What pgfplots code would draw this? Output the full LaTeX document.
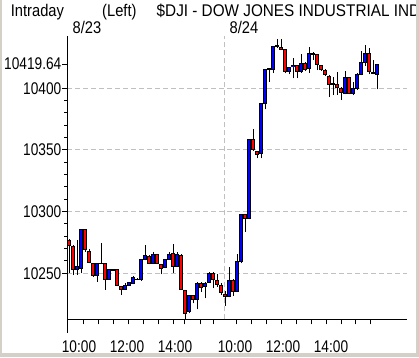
\documentclass[border=0pt]{standalone}
\usepackage{pgfplots}
\usepackage{pgfplotstable}
\pgfplotsset{compat=1.18}
\usepackage{fontspec}
\setmainfont{Liberation Sans}[FakeStretch=0.82]
\newfontfamily\tickfont{Liberation Sans}[FakeStretch=0.81]
\newfontfamily\headfont{Liberation Sans}[FakeStretch=0.87]
\newfontfamily\titlefont{Liberation Sans}[FakeStretch=0.905]
\definecolor{upblue}{RGB}{0,0,255}
\definecolor{downred}{RGB}{255,0,0}
\definecolor{gridgray}{RGB}{192,192,192}
\definecolor{framegray}{RGB}{212,208,200}
\newcommand{\tf}{\tickfont\fontsize{16.9pt}{18pt}\selectfont}
\newcommand{\hf}{\headfont\fontsize{16.9pt}{18pt}\selectfont}
\newcommand{\ttf}{\titlefont\fontsize{16.9pt}{18pt}\selectfont}

% k = 10-minute bar index (day 1: 0-38, day 2: 39-77)
\pgfplotstableread{
k o h l c
0 10277.0 10278.0 10250.0 10272.9
1 10272.1 10273.0 10248.6 10253.2
2 10253.2 10277.0 10248.6 10255.4
3 10254.0 10286.0 10250.0 10285.6
4 10285.6 10286.0 10267.5 10268.9
5 10267.5 10269.5 10258.0 10258.6
6 10258.1 10258.5 10247.2 10248.6
7 10248.6 10258.5 10243.2 10258.1
8 10258.2 10274.3 10257.5 10258.0
9 10258.1 10258.5 10236.4 10245.1
10 10245.1 10253.5 10244.5 10252.7
11 10252.7 10253.0 10252.0 10252.5
12 10252.7 10253.0 10239.7 10240.5
13 10239.7 10240.0 10232.4 10237.0
14 10237.0 10241.8 10236.5 10240.5
15 10240.5 10243.0 10240.0 10242.4
16 10241.8 10247.8 10241.0 10246.7
17 10245.1 10246.5 10244.5 10245.3
18 10245.1 10261.0 10244.0 10260.8
19 10261.3 10272.9 10260.5 10264.8
20 10264.0 10265.0 10257.3 10258.1
21 10258.1 10267.5 10257.5 10265.4
22 10265.4 10266.0 10257.5 10258.1
23 10257.3 10257.5 10249.1 10254.0
24 10254.5 10261.0 10254.0 10260.8
25 10261.3 10267.5 10261.0 10265.4
26 10266.2 10273.5 10250.5 10255.9
27 10255.9 10267.5 10255.5 10265.4
28 10264.8 10265.5 10236.5 10237.0
29 10235.9 10236.5 10212.7 10217.5
30 10218.9 10232.0 10217.5 10231.6
31 10231.6 10232.0 10225.6 10228.9
32 10228.9 10243.2 10220.8 10241.8
33 10241.8 10243.0 10235.1 10238.3
34 10239.1 10243.2 10229.7 10241.8
35 10242.4 10251.0 10242.0 10249.9
36 10249.9 10251.0 10237.8 10245.1
37 10244.5 10249.1 10239.1 10241.0
38 10240.2 10241.8 10232.4 10234.3
39 10233.2 10236.0 10223.5 10231.0
40 10231.0 10255.4 10230.5 10244.5
41 10244.5 10245.0 10231.6 10235.6
42 10235.6 10265.6 10235.0 10259.9
43 10259.4 10297.5 10258.1 10297.3
44 10297.3 10297.5 10283.8 10294.6
45 10294.6 10359.0 10293.8 10358.6
46 10358.6 10367.0 10349.5 10350.0
47 10348.9 10349.0 10343.2 10346.5
48 10347.3 10388.0 10343.2 10387.8
49 10387.8 10415.6 10383.0 10415.4
50 10415.4 10416.0 10405.4 10415.8
51 10415.4 10434.0 10412.2 10433.8
52 10434.0 10439.7 10433.0 10434.3
53 10433.2 10439.7 10431.0 10431.6
54 10431.1 10432.0 10412.0 10413.5
55 10413.5 10417.0 10411.3 10416.7
56 10418.1 10424.3 10408.1 10418.3
57 10418.1 10418.5 10408.1 10414.0
58 10414.0 10427.8 10412.7 10420.2
59 10420.2 10421.0 10414.0 10415.4
60 10416.2 10433.8 10412.7 10428.4
61 10428.4 10429.7 10422.9 10427.0
62 10427.0 10428.0 10414.8 10418.9
63 10418.1 10418.9 10414.0 10415.4
64 10414.8 10415.5 10410.0 10410.8
65 10409.9 10410.5 10393.2 10402.7
66 10403.5 10409.4 10394.6 10402.7
67 10402.7 10413.5 10394.6 10400.8
68 10400.0 10401.0 10390.5 10396.7
69 10395.9 10414.0 10395.0 10408.9
70 10408.9 10409.4 10395.0 10395.9
71 10395.4 10405.4 10394.5 10400.0
72 10400.0 10412.0 10399.0 10411.3
73 10411.3 10430.5 10410.5 10421.1
74 10421.1 10435.1 10418.1 10428.4
75 10428.4 10432.4 10411.3 10413.5
76 10412.7 10422.9 10411.3 10412.4
77 10411.3 10420.0 10399.2 10419.64
}\candles

\begin{document}
\begin{tikzpicture}[x=1pt,y=1pt]
\useasboundingbox (0,0) rectangle (419,357);
\fill[white] (0,0) rectangle (419,357);
\begin{axis}[
  at={(67pt,37.7pt)}, anchor=south west,
  scale only axis, width=340pt, height=283.3pt,
  xmin=-0.5, xmax=84.5, ymin=10212.7, ymax=10442.4,
  axis lines=left, axis line style={-, black, line width=1pt},
  tick align=outside, major tick length=5pt, minor tick length=3pt,
  tick style={black, line width=1pt},
  scaled y ticks=false, scaled x ticks=false,
  ytick={10250,10300,10350,10400},
  yticklabels={10250,10300,10350,10400},
  minor y tick num=4,
  extra y ticks={10419.64}, extra y tick labels={10419.64},
  extra y tick style={grid=none},
  ymajorgrids, grid style={gridgray, line width=1pt, dash pattern=on 5pt off 3pt},
  xtick={3.6,7.3,11.1,14.8,18.6,22.3,26.1,28.75,32.75,36.1,41.9,45.7,49.4,53.2,56.9,60.7,64.4,68.2,71.5,75.25},
  xticklabels={},
  extra x ticks={2.5,14.5,26.5,41.5,53.5,65.5},
  extra x tick labels={10:00,12:00,14:00,10:00,12:00,14:00},
  extra x tick style={tick style={draw=none}, grid=none},
  /pgf/number format/assume math mode=true,
  yticklabel style={font=\tf, anchor=east, inner sep=0pt, xshift=-0.5pt},
  xticklabel style={font=\tf, anchor=north, inner sep=0pt, yshift=-16pt},
]
\addplot[gridgray, line width=1pt, dash pattern=on 5pt off 3pt, forget plot]
  coordinates {(38.8,10212.7) (38.8,10442.4)};
\pgfplotsforeachungrouped \i in {0,...,77}{%
  \pgfplotstablegetelem{\i}{k}\of\candles \let\K\pgfplotsretval
  \pgfplotstablegetelem{\i}{o}\of\candles \let\O\pgfplotsretval
  \pgfplotstablegetelem{\i}{h}\of\candles \let\H\pgfplotsretval
  \pgfplotstablegetelem{\i}{l}\of\candles \let\L\pgfplotsretval
  \pgfplotstablegetelem{\i}{c}\of\candles \let\C\pgfplotsretval
  \pgfmathsetmacro\XA{\K-0.38}%
  \pgfmathsetmacro\XB{\K+0.38}%
  \pgfmathtruncatemacro\up{\C>=\O ? 1 : 0}%
  \ifnum\up=1 \def\col{upblue}\else\def\col{downred}\fi
  \edef\doit{%
    \noexpand\addplot[black, line width=1pt, forget plot] coordinates {(\K,\L) (\K,\H)};
    \noexpand\addplot[draw=black, fill=\col, line width=1pt, forget plot] coordinates {(\XA,\O) (\XB,\O) (\XB,\C) (\XA,\C)} -- cycle;
  }\doit
}
\end{axis}
\draw[line width=1pt] (67,38) -- (67,24);
\node[anchor=base west, inner sep=0pt, font=\hf] at (10.7,340.3) {Intraday};
\node[anchor=base west, inner sep=0pt, font=\hf] at (102,340.3) {(Left)};
\node[anchor=base west, inner sep=0pt, font=\ttf] at (156.5,340.3) {\$DJI - DOW JONES INDUSTRIAL IND};
\node[anchor=base west, inner sep=0pt, font=\hf] at (72.5,323.7) {8/23};
\node[anchor=base west, inner sep=0pt, font=\hf] at (229.5,323.7) {8/24};
\fill[framegray] (0,0) rectangle (2,357);
\fill[framegray] (416,0) rectangle (419,357);
\fill[framegray] (0,0) rectangle (419,4);
\end{tikzpicture}
\end{document}
